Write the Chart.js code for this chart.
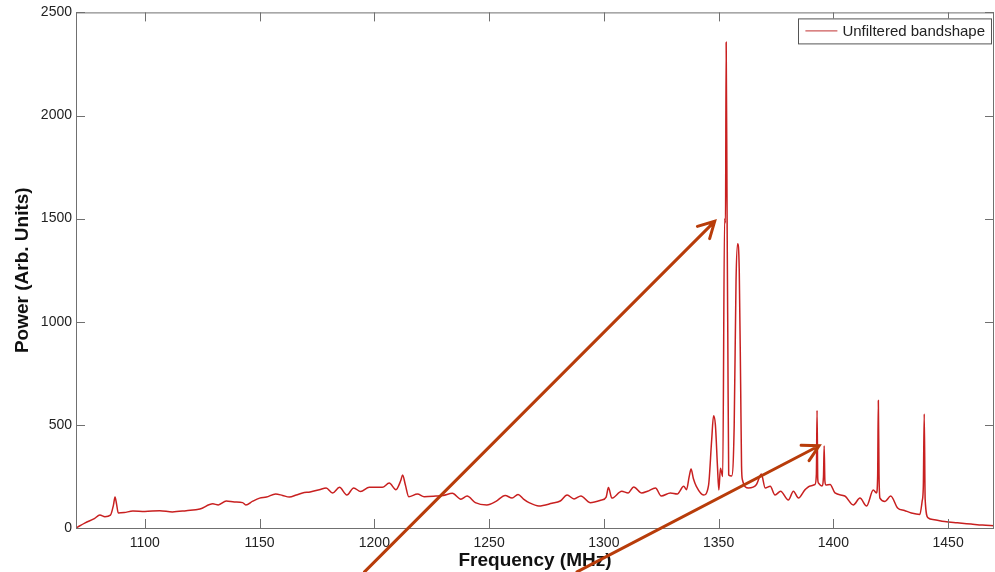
<!DOCTYPE html>
<html>
<head>
<meta charset="utf-8">
<title>Unfiltered bandshape</title>
<script src="https://cdn.jsdelivr.net/npm/chart.js@4.4.1/dist/chart.umd.min.js"></script>
<style>
	html, body { margin: 0; padding: 0; background: #ffffff; }
	#Bandshape_Plot { display: block; }
</style>
</head>
<body>
<canvas id="Bandshape_Plot" width="995" height="572"></canvas>
<script>

// Spectrum (MHz, arb. power)
const frequencies = [
	1070, 1074, 1078, 1080.4, 1082.6, 1085, 1086.3, 1087, 1087.7, 1088.4,
	1091, 1094.8, 1100, 1106.5, 1112, 1118, 1124, 1129.6, 1132, 1135.5,
	1139, 1142.6, 1144, 1147, 1150, 1153, 1157, 1160, 1163, 1166,
	1168.7, 1172, 1176, 1179, 1181.8, 1184.8, 1188, 1191, 1194, 1197.8,
	1203.5, 1206.5, 1209.4, 1211.5, 1212.3, 1213.5, 1215, 1218.8, 1221.7, 1226.8,
	1230, 1234, 1237.7, 1240.4, 1244, 1249, 1253, 1257, 1260, 1262.6,
	1265, 1267.4, 1271.7, 1277.4, 1281, 1284, 1287, 1290, 1294, 1299,
	1301, 1302, 1303.5, 1307.8, 1310.6, 1313, 1316.5, 1319, 1322.5, 1325,
	1329, 1332, 1334.8, 1336, 1337.2, 1338, 1339, 1340.3, 1343.5, 1345.6,
	1347, 1347.8, 1348.6, 1349.5, 1350.1, 1350.8, 1351.8, 1352.6, 1353.0, 1353.3,
	1353.7, 1354.0, 1354.4, 1355.7, 1356.8, 1357.6, 1358.3, 1359, 1359.6, 1360,
	1360.4, 1363, 1366.5, 1368.6, 1370.3, 1372.5, 1374.6, 1377, 1380.4, 1382.6,
	1384.8, 1387.7, 1390, 1392, 1392.6, 1392.9, 1393.2, 1393.5, 1395, 1395.7,
	1396, 1396.3, 1396.7, 1398.6, 1400.7, 1405, 1408.7, 1411.6, 1414.5, 1417.4,
	1418.8, 1419.3, 1419.6, 1419.9, 1420.3, 1422.5, 1425, 1428, 1431, 1434,
	1437.7, 1438.7, 1439.2, 1439.6, 1440, 1441.3, 1444, 1448.5, 1454, 1460,
	1465, 1470
];
const power = [
	0, 25, 45, 63, 55, 62, 110, 150, 115, 73,
	75, 82, 80, 84, 78, 84, 92, 117, 112, 131,
	126, 123, 111, 130, 145, 150, 165, 158, 150, 160,
	170, 175, 185, 194, 170, 197, 160, 194, 177, 197,
	197, 218, 186, 230, 257, 210, 152, 165, 152, 155,
	158, 168, 140, 155, 123, 112, 129, 158, 145, 163,
	140, 123, 107, 120, 131, 160, 141, 155, 123, 136,
	150, 196, 145, 178, 170, 199, 170, 178, 194, 155,
	170, 165, 202, 186, 250, 286, 240, 202, 160, 205,
	430, 544, 500, 300, 184, 290, 250, 1500, 1480, 2355,
	1500, 950, 257, 252, 500, 1200, 1378, 1250, 700, 300,
	233, 194, 211, 262, 194, 202, 160, 178, 136, 178,
	145, 186, 204, 211, 260, 570, 240, 218, 204, 250,
	398, 230, 209, 211, 170, 155, 112, 145, 107, 184,
	170, 250, 618, 260, 145, 129, 155, 97, 85, 73,
	66, 131, 200, 553, 140, 49, 40, 31, 25, 19,
	14, 11
];

const x_min = 1070;
const x_max = 1470;
const x_ticks = [1100, 1150, 1200, 1250, 1300, 1350, 1400, 1450];
const y_min = 0;
const y_max = 2500;
const y_ticks = [0, 500, 1000, 1500, 2000, 2500];

// Annotation arrows, tail -> head, in data units
const arrow_tails = [[1195.7, -213], [1288.3, -213]];
const arrow_heads = [[1348.3, 1487], [1393.8, 399]];

const line_colour = "rgb(200,32,32)";
const arrow_colour = "rgb(184,60,10)";
const axis_colour = "#707070";


Chart.defaults.font.family = '"Liberation Sans", Arial, Helvetica, sans-serif';
Chart.defaults.font.size = 14;
Chart.defaults.color = "#222222";


// MATLAB-ish box: frame, inward ticks on all four sides
const axes_box_plugin = {
	id: "axesBox",
	afterDraw(chart) {
		const ctx = chart.ctx;
		const area = chart.chartArea;
		const xs = chart.scales.x;
		const ys = chart.scales.y;
		const tick_len = 9;
		ctx.save();
		ctx.strokeStyle = axis_colour;
		ctx.lineWidth = 1;
		ctx.strokeRect(area.left + 0.5, area.top + 0.5, area.right - area.left - 1, area.bottom - area.top);
		ctx.beginPath();
		for (var i = 0; i < x_ticks.length; i++) {
			var px = Math.round(xs.getPixelForValue(x_ticks[i])) + 0.5;
			ctx.moveTo(px, area.bottom);
			ctx.lineTo(px, area.bottom - tick_len);
			ctx.moveTo(px, area.top);
			ctx.lineTo(px, area.top + tick_len);
		}
		for (var j = 0; j < y_ticks.length; j++) {
			var py = Math.round(ys.getPixelForValue(y_ticks[j])) + 0.5;
			ctx.moveTo(area.left, py);
			ctx.lineTo(area.left + tick_len, py);
			ctx.moveTo(area.right, py);
			ctx.lineTo(area.right - tick_len, py);
		}
		ctx.stroke();
		ctx.restore();
	}
};

// Legend box inside the top right corner
const inside_legend_plugin = {
	id: "insideLegend",
	afterDraw(chart) {
		const ctx = chart.ctx;
		const area = chart.chartArea;
		const label = chart.data.datasets[0].label;
		ctx.save();
		ctx.font = '15px "Liberation Sans", Arial, sans-serif';
		var text_w = ctx.measureText(label).width;
		var box_right = area.right - 3;
		var box_top = area.top + 6;
		var box_h = 25;
		var box_w = text_w + 50;
		var box_left = box_right - box_w;
		ctx.fillStyle = "#ffffff";
		ctx.fillRect(box_left, box_top, box_w, box_h);
		ctx.strokeStyle = "#555555";
		ctx.lineWidth = 1;
		ctx.strokeRect(Math.round(box_left) + 0.5, box_top + 0.5, Math.round(box_w), box_h);
		ctx.strokeStyle = "rgb(205,90,90)";
		ctx.lineWidth = 1.3;
		ctx.beginPath();
		ctx.moveTo(box_left + 7, box_top + box_h / 2);
		ctx.lineTo(box_left + 39, box_top + box_h / 2);
		ctx.stroke();
		ctx.fillStyle = "#222222";
		ctx.textBaseline = "middle";
		ctx.fillText(label, box_left + 44, box_top + box_h / 2 + 1);
		ctx.restore();
	}
};

// Hand-drawn style arrows pointing at the RFI spikes
const arrow_plugin = {
	id: "arrows",
	afterDraw(chart) {
		const ctx = chart.ctx;
		const xs = chart.scales.x;
		const ys = chart.scales.y;
		ctx.save();
		ctx.strokeStyle = arrow_colour;
		ctx.lineWidth = 3;
		ctx.lineCap = "round";
		for (var k = 0; k < arrow_tails.length; k++) {
			var x0 = xs.getPixelForValue(arrow_tails[k][0]);
			var y0 = ys.getPixelForValue(arrow_tails[k][1]);
			var x1 = xs.getPixelForValue(arrow_heads[k][0]);
			var y1 = ys.getPixelForValue(arrow_heads[k][1]);
			var ang = Math.atan2(y1 - y0, x1 - x0);
			var head = 18;
			ctx.beginPath();
			ctx.moveTo(x0, y0);
			ctx.lineTo(x1, y1);
			ctx.moveTo(x1 - head * Math.cos(ang - 0.5), y1 - head * Math.sin(ang - 0.5));
			ctx.lineTo(x1, y1);
			ctx.lineTo(x1 - head * Math.cos(ang + 0.5), y1 - head * Math.sin(ang + 0.5));
			ctx.stroke();
		}
		ctx.restore();
	}
};


const bandshape_plot = document.getElementById("Bandshape_Plot").getContext("2d");

var points = [];
for (var i = 0; i < frequencies.length; i++) {
	points.push({ x: frequencies[i], y: power[i] });
}

var Bandshape_Plot_Obj = new Chart(bandshape_plot, {
	type: "line",
	data: {
		datasets: [
			{
				label: "Unfiltered bandshape",
				fill: false,
				cubicInterpolationMode: "monotone",	// smooth, but no overshoot on the spikes
				borderColor: line_colour,
				borderWidth: 1.5,
				pointRadius: 0,
				data: points,
			}
		]
	},
	options: {
		responsive: false,
		animation: false,
		layout: {
			padding: { top: 12, right: 1, left: 0, bottom: 0 }
		},
		plugins: {
			legend: { display: false },
			tooltip: { enabled: false },
		},
		scales: {
			x: {
				type: "linear",
				min: x_min,
				max: x_max,
				grid: { display: false, drawTicks: false },
				border: { display: false },
				afterBuildTicks: function(scale) {
					scale.ticks = x_ticks.map(function(v) { return { value: v }; });
				},
				ticks: {
					padding: 7,
					maxRotation: 0,
					autoSkip: false,
					color: "#222222",
					callback: function(value) { return String(value); },
				},
				title: {
					display: true,
					text: "Frequency (MHz)",
					font: { size: 19, weight: "bold" },
					color: "#111111",
					padding: { top: 0, bottom: 0 },
				},
				afterFit: function(scale) { scale.height = 44; },
			},
			y: {
				min: y_min,
				max: y_max,
				grid: { display: false, drawTicks: false },
				border: { display: false },
				afterBuildTicks: function(scale) {
					scale.ticks = y_ticks.map(function(v) { return { value: v }; });
				},
				ticks: {
					padding: 4,
					autoSkip: false,
					color: "#222222",
					callback: function(value) { return String(value); },
				},
				title: {
					display: true,
					text: "Power (Arb. Units)",
					font: { size: 19, weight: "bold" },
					color: "#111111",
					padding: { top: 11, bottom: 0 },
				},
				afterFit: function(scale) { scale.width = 76; },
			}
		},
		events: [], // static picture
	},
	plugins: [axes_box_plugin, inside_legend_plugin, arrow_plugin]
});

</script>
</body>
</html>
